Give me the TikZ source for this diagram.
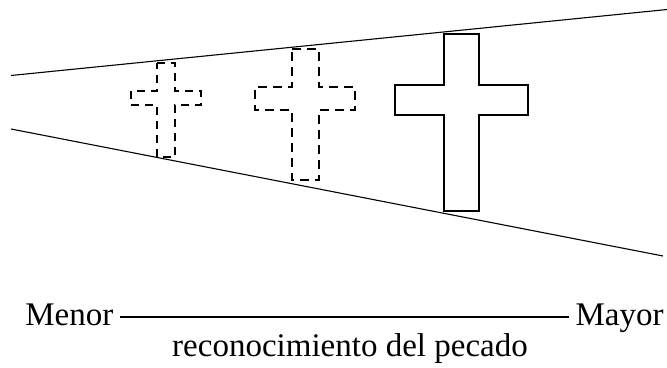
\documentclass[tikz,border=0pt]{standalone}
\usepackage{fontspec}
\setmainfont{Liberation Serif}
\usepackage{tikz}
\usetikzlibrary{positioning}
\tikzstyle{ray}=[draw,line width=0.55pt]
\tikzstyle{crossfaint}=[draw,line width=1pt,dash pattern=on 4pt off 3pt]
\tikzstyle{crossmid}=[draw,line width=1.1pt,dash pattern=on 4.5pt off 3pt]
\tikzstyle{crossfull}=[draw,line width=1.2pt]
\tikzstyle{label}=[font=\fontsize{16.5}{19}\selectfont,inner sep=3pt]

\begin{document}
\begin{tikzpicture}[x=0.5pt,y=-0.5pt]
    \useasboundingbox (0,0) rectangle (667,368);
    % the two rays
    \path[ray] (11,75.5) -- (667,9.5);
    \path[ray] (11,129) -- (663,256);
    % crosses: bar left/right/top/bottom, arm left/right/top/bottom
    \foreach \vl/\vr/\vt/\vb/\al/\ar/\at/\ab/\sty in {157/175/63/157/131/201/91/105/crossfaint, 292/319/49/180/255/355/87/110/crossmid, 444/479/34/211/395/528/85/115/crossfull}
        \path[\sty] (\vl,\vt) -- (\vr,\vt) -- (\vr,\at) -- (\ar,\at) -- (\ar,\ab) -- (\vr,\ab) -- (\vr,\vb) -- (\vl,\vb) -- (\vl,\ab) -- (\al,\ab) -- (\al,\at) -- (\vl,\at) -- cycle;
    % scale
    \node[label,anchor=base west] (menor) at (19,325) {Menor};
    \node[label,anchor=base east] (mayor) at (670,325) {Mayor};
    \node[label,anchor=base] (recon) at (350,356) {reconocimiento del pecado};
    \draw[line width=0.75pt] ([yshift=4pt]menor.base east) -- ([yshift=4pt]mayor.base west);
\end{tikzpicture}
\end{document}
